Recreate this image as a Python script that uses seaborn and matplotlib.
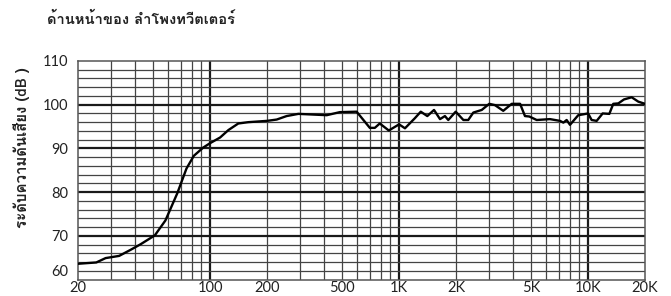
import matplotlib
matplotlib.use("Agg")
import matplotlib.pyplot as plt
import seaborn as sns
import pandas as pd

# frequency response
freq = [20, 25, 28, 33, 38, 43, 51, 58, 67, 75, 82, 92, 100, 113, 125, 141, 159, 200, 225, 254,
        293, 414, 486, 596, 700, 744, 790, 882, 1000, 1074, 1211, 1302, 1410, 1530, 1646, 1748,
        1820, 1993, 2188, 2322, 2470, 2736, 3000, 3216, 3556, 3944, 4366, 4634, 4885, 5346,
        6280, 7100, 7400, 7700, 8020, 8870, 9440, 10000, 10440, 11100, 11940, 12950, 13590,
        14450, 15480, 17000, 18430, 20000]
db = [63.6, 63.9, 64.9, 65.4, 66.8, 68.1, 70.1, 73.5, 79.7, 85.4, 88.3, 90.2, 91.2, 92.5, 94.2,
      95.7, 96.0, 96.3, 96.6, 97.4, 97.9, 97.6, 98.3, 98.4, 94.7, 94.7, 95.7, 94.1, 95.5, 94.6,
      96.9, 98.4, 97.4, 98.8, 96.7, 97.4, 96.5, 98.4, 96.5, 96.5, 98.2, 98.8, 100.2, 99.9, 98.6,
      100.2, 100.2, 97.4, 97.3, 96.5, 96.7, 96.3, 95.9, 96.5, 95.4, 97.6, 97.8, 98.0, 96.5, 96.3,
      98.0, 97.9, 100.2, 100.3, 101.2, 101.7, 100.7, 100.2]

xticks = [20, 100, 200, 500, 1000, 2000, 5000, 10000, 20000]
xticklabels = ["20", "100", "200", "500", "1K", "2K", "5K", "10K", "20K"]
yticks = [60, 70, 80, 90, 100, 110]

title = "ด้านหน้าของ ลำโพงทวีตเตอร์"
ylabel = "ระดับความดันเสียง (dB )"

df = pd.DataFrame({"freq": freq, "db": db})

sns.set_style("white")
plt.rcParams["font.family"] = ["Lato", "DejaVu Sans"]
thai = ["Loma", "IBM Plex Sans Thai Looped", "DejaVu Sans"]

fig = plt.figure(figsize=(6.71, 2.96), dpi=100)
ax = fig.add_axes([78 / 671, 1 - 279.5 / 296, 567 / 671, 218.5 / 296])

# grid
minor_x = [m * d for d in (10, 100, 1000) for m in range(2, 10) if 20 < m * d < 20000]
for f in minor_x:
    ax.axvline(f, color="#444444", lw=0.9, zorder=1)
for f in (100, 1000, 10000):
    ax.axvline(f, color="#1a1a1a", lw=1.6, zorder=1)
for y in range(62, 110, 2):
    if y % 10:
        ax.axhline(y, color="#444444", lw=0.9, zorder=1)
for y in (70, 80, 90, 100):
    ax.axhline(y, color="#1a1a1a", lw=1.6, zorder=1)

sns.lineplot(data=df, x="freq", y="db", ax=ax, color="black", lw=1.7,
             sort=False, estimator=None, zorder=3)

ax.set_xscale("log")
ax.set_xlim(20, 20000)
ax.set_ylim(60, 110)
ax.set_xticks(xticks)
ax.set_xticklabels(xticklabels)
ax.minorticks_off()
ax.set_yticks(yticks)
ax.set_yticklabels([str(v) for v in yticks])
ax.tick_params(axis="both", length=0, labelsize=10.5, colors="#222222")
ax.tick_params(axis="x", pad=1)
ax.tick_params(axis="y", pad=7)
ax.get_yticklabels()[0].set_va("bottom")
ax.set_xlabel("")
ax.set_ylabel("")
for s in ax.spines.values():
    s.set_color("#555555")
    s.set_linewidth(1.1)

fig.text(47 / 671, 1 - 19 / 296, title, fontsize=10.6, fontweight="bold",
         family=thai, va="center", ha="left", color="#222222")
fig.text(22 / 671, 1 - 148 / 296, ylabel, fontsize=10.8, fontweight="bold",
         family=thai, rotation=90, va="center", ha="center", color="#222222")

fig.savefig("out.png", dpi=100)
